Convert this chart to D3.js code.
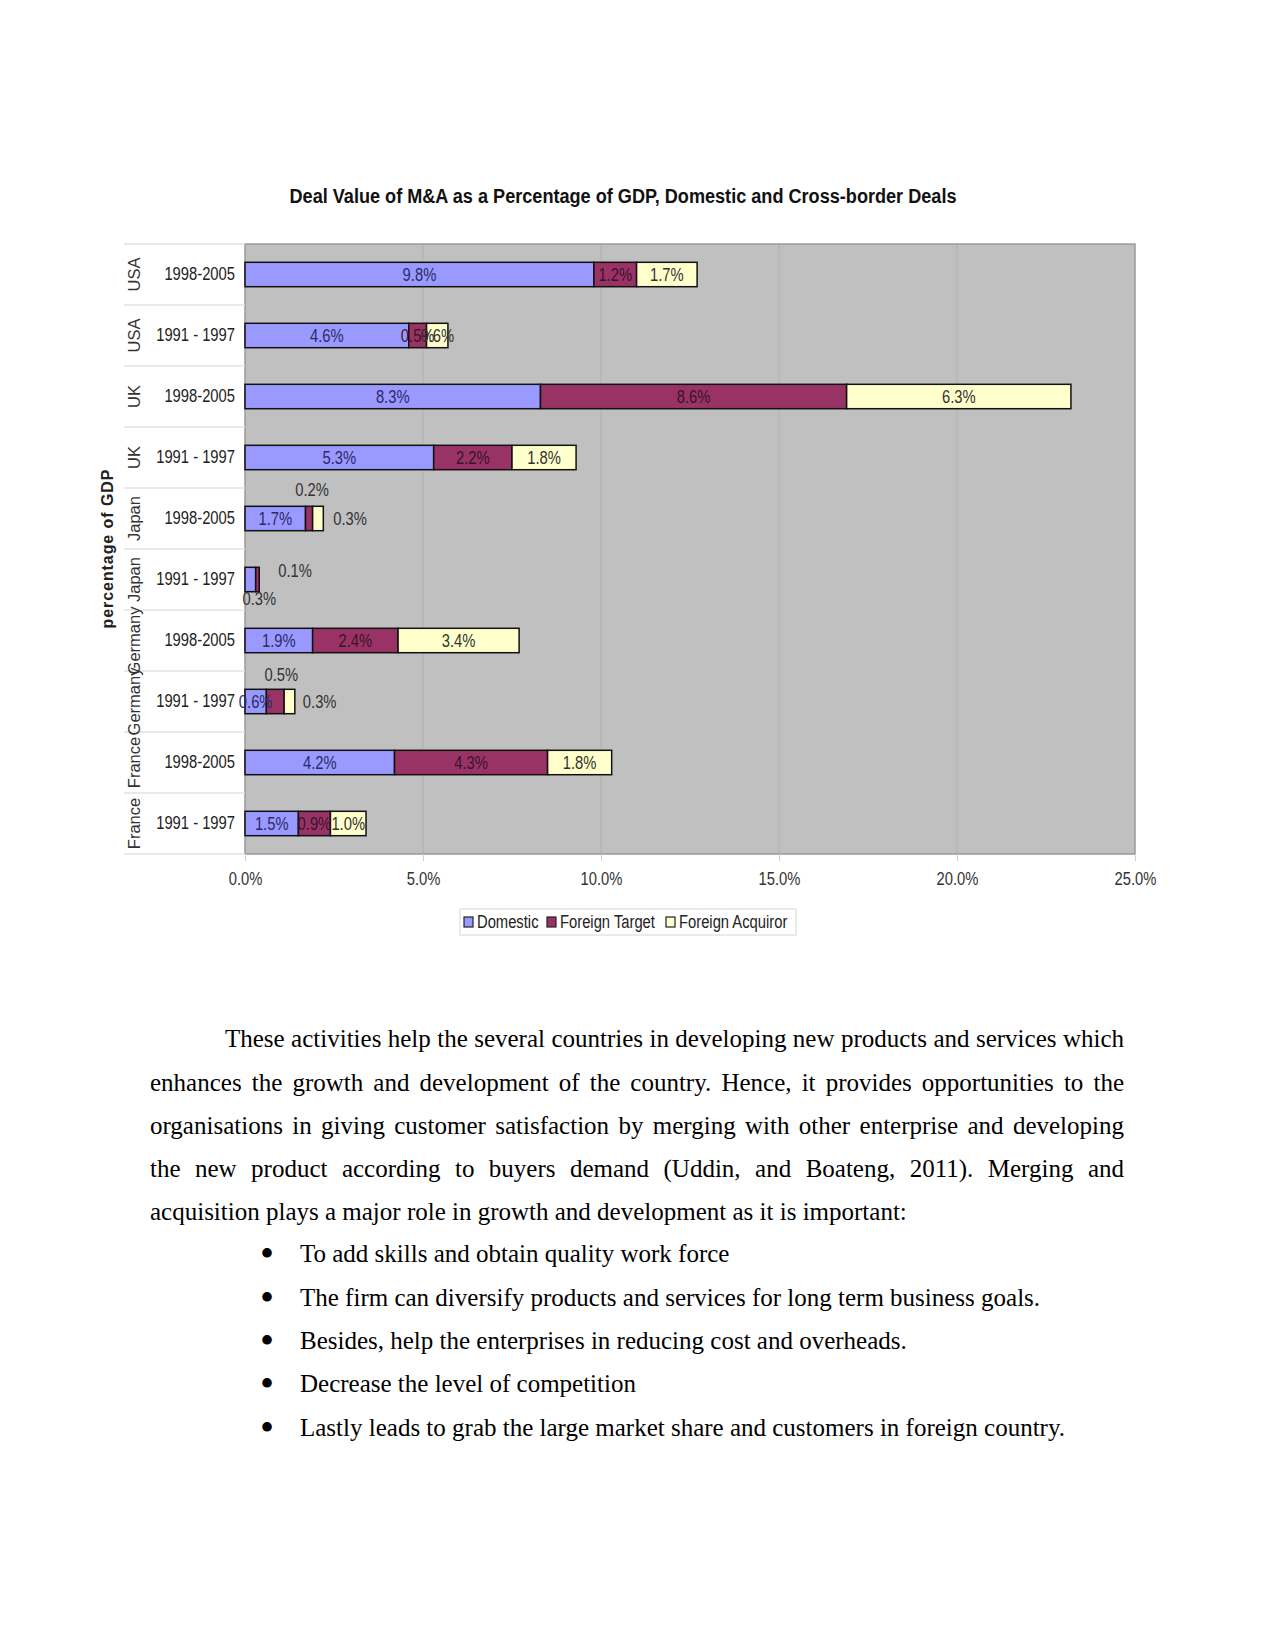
<!DOCTYPE html>
<html>
<head>
<meta charset="utf-8">
<script src="https://cdn.jsdelivr.net/npm/d3@7"></script>
<style>
  html, body { margin: 0; padding: 0; background: #fff; }
  svg { display: block; }
</style>
</head>
<body>
<svg id="page" width="1275" height="1650"></svg>
<script>
// ---------------- DATA ----------------
const title = "Deal Value of M&A as a Percentage of GDP, Domestic and Cross-border Deals";
const yAxisTitle = "percentage of GDP";
const countries = ["USA", "USA", "UK", "UK", "Japan", "Japan", "Germany", "Germany", "France", "France"];
const periods = ["1998-2005", "1991 - 1997", "1998-2005", "1991 - 1997", "1998-2005", "1991 - 1997", "1998-2005", "1991 - 1997", "1998-2005", "1991 - 1997"];
const seriesNames = ["Domestic", "Foreign Target", "Foreign Acquiror"];
const domestic = [9.8, 4.6, 8.3, 5.3, 1.7, 0.3, 1.9, 0.6, 4.2, 1.5];
const foreignTarget = [1.2, 0.5, 8.6, 2.2, 0.2, 0.1, 2.4, 0.5, 4.3, 0.9];
const foreignAcquiror = [1.7, 0.6, 6.3, 1.8, 0.3, 0.0, 3.4, 0.3, 1.8, 1.0];
const xTicks = [0, 5, 10, 15, 20, 25];

const paragraphLines = [
  "These activities help the several countries in developing new products and services which",
  "enhances the growth and development of the country. Hence, it provides opportunities to the",
  "organisations in giving customer satisfaction by merging with other enterprise and developing",
  "the new product according to buyers demand (Uddin, and Boateng, 2011). Merging and",
  "acquisition plays a major role in growth and development as it is important:"
];
const bullets = [
  "To add skills and obtain quality work force",
  "The firm can diversify products and services for long term business goals.",
  "Besides, help the enterprises in reducing cost and overheads.",
  "Decrease the level of competition",
  "Lastly leads to grab the large market share and customers in foreign country."
];

// ---------------- STYLE ----------------
const colors = ["#9999FF", "#993366", "#FFFFCC"];
const labelColors = ["#2b2b66", "#3a1428", "#333333"];
const sans = "'Liberation Sans', Arial, sans-serif";
const serif = "'Liberation Serif', 'Times New Roman', serif";
const NARROW = 0.82; // horizontal condensing to mimic Arial Narrow
// small labels that Excel placed outside their segment
const labelPlacement = {
  "4-1": { pos: "above", dx: 3, dy: -29 },
  "4-2": { pos: "right", dx: 10, dy: 0 },
  "5-0": { pos: "below", dx: 9, dy: 19 },
  "5-1": { pos: "right", dx: 19, dy: -9 },
  "7-1": { pos: "above", dx: 6, dy: -27 },
  "7-2": { pos: "right", dx: 8, dy: 0 }
};

function condense(sel, f) {
  sel.each(function () {
    const l = this.getComputedTextLength();
    d3.select(this).attr("textLength", l * f).attr("lengthAdjust", "spacingAndGlyphs");
  });
}

const svg = d3.select("#page");

// ---------------- CHART ----------------
const plot = { left: 245, right: 1135, top: 244, bottom: 854 };
const x = d3.scaleLinear().domain([0, 25]).range([plot.left, plot.right]);
const idx = d3.range(countries.length);
const y = d3.scaleBand().domain(idx).range([plot.top, plot.bottom]).paddingInner(0.6).paddingOuter(0.3);
const step = y.step();

const rows = idx.map(i => ({ i, Domestic: domestic[i], "Foreign Target": foreignTarget[i], "Foreign Acquiror": foreignAcquiror[i] }));
const stacked = d3.stack().keys(seriesNames)(rows);

// title
svg.append("text")
  .attr("x", 623).attr("y", 203)
  .attr("text-anchor", "middle")
  .attr("font-family", sans).attr("font-weight", "bold").attr("font-size", 20)
  .attr("fill", "#111")
  .attr("textLength", 667).attr("lengthAdjust", "spacingAndGlyphs")
  .text(title);

// plot background
svg.append("rect")
  .attr("x", plot.left).attr("y", plot.top)
  .attr("width", plot.right - plot.left).attr("height", plot.bottom - plot.top)
  .attr("fill", "#C0C0C0");

// gridlines
svg.append("g").selectAll("line").data(xTicks.slice(1, -1)).join("line")
  .attr("x1", d => x(d)).attr("x2", d => x(d))
  .attr("y1", plot.top).attr("y2", plot.bottom)
  .attr("stroke", "#b0b0b0").attr("stroke-width", 1);

// plot border
svg.append("rect")
  .attr("x", plot.left).attr("y", plot.top)
  .attr("width", plot.right - plot.left).attr("height", plot.bottom - plot.top)
  .attr("fill", "none").attr("stroke", "#9a9a9a").attr("stroke-width", 1.5);

// left category separators
const bounds = d3.range(countries.length + 1).map(k => plot.top + k * step);
svg.append("g").selectAll("line").data(bounds).join("line")
  .attr("x1", 124).attr("x2", plot.left)
  .attr("y1", d => d).attr("y2", d => d)
  .attr("stroke", "#e2e2e2").attr("stroke-width", 1.5);

// x axis
const xAxis = d3.axisBottom(x).tickValues(xTicks).tickFormat(d => d3.format(".1f")(d) + "%").tickSize(7).tickPadding(11);
const gx = svg.append("g").attr("transform", `translate(0,${plot.bottom})`).call(xAxis);
gx.select(".domain").remove();
gx.selectAll(".tick line").attr("stroke", "#d0d0d0");
gx.selectAll(".tick text").attr("font-family", sans).attr("font-size", 18).attr("fill", "#333").call(condense, NARROW);

// y axis (period labels)
const yAxis = d3.axisLeft(y).tickFormat(i => periods[i]).tickSize(0).tickPadding(10);
const gy = svg.append("g").attr("transform", `translate(${plot.left},0)`).call(yAxis);
gy.select(".domain").remove();
gy.selectAll(".tick text").attr("font-family", sans).attr("font-size", 18).attr("fill", "#222").call(condense, NARROW);

// country labels (rotated)
svg.append("g").selectAll("text").data(idx).join("text")
  .attr("transform", i => `translate(140,${y(i) + y.bandwidth() / 2}) rotate(-90)`)
  .attr("text-anchor", "middle")
  .attr("font-family", sans).attr("font-size", 16.5).attr("fill", "#333")
  .text(i => countries[i]);

// y axis title
svg.append("text")
  .attr("transform", `translate(113,${549}) rotate(-90)`)
  .attr("text-anchor", "middle")
  .attr("font-family", sans).attr("font-weight", "bold").attr("font-size", 16)
  .attr("fill", "#222")
  .attr("textLength", 159).attr("lengthAdjust", "spacing")
  .text(yAxisTitle);

// bars
const gBars = svg.append("g");
stacked.forEach((layer, s) => {
  gBars.append("g").selectAll("rect").data(layer.filter(d => d[1] - d[0] > 0)).join("rect")
    .attr("x", d => x(d[0]))
    .attr("y", d => y(d.data.i))
    .attr("width", d => x(d[1]) - x(d[0]))
    .attr("height", y.bandwidth())
    .attr("fill", colors[s])
    .attr("stroke", "#111").attr("stroke-width", 1.5);
});

// data labels
const gLab = svg.append("g");
stacked.forEach((layer, s) => {
  layer.forEach(d => {
    const v = d[1] - d[0];
    if (v <= 0) return;
    const i = d.data.i;
    const cy = y(i) + y.bandwidth() / 2;
    const p = labelPlacement[i + "-" + s];
    let tx, ty, anchor = "middle", fill = labelColors[s];
    if (!p) {
      tx = (x(d[0]) + x(d[1])) / 2; ty = cy;
    } else if (p.pos === "right") {
      const end = x(d3.sum([domestic[i], foreignTarget[i], foreignAcquiror[i]]));
      tx = end + p.dx; ty = cy + p.dy; anchor = "start"; fill = "#333";
    } else {
      tx = (x(d[0]) + x(d[1])) / 2 + p.dx; ty = cy + p.dy; fill = "#333";
    }
    gLab.append("text")
      .attr("x", tx).attr("y", ty).attr("dy", "0.36em")
      .attr("text-anchor", anchor)
      .attr("font-family", sans).attr("font-size", 18).attr("fill", fill)
      .text(d3.format(".1f")(v) + "%")
      .call(condense, NARROW);
  });
});

// legend
const legend = svg.append("g");
legend.append("rect").attr("x", 460).attr("y", 909).attr("width", 336).attr("height", 26)
  .attr("fill", "#fff").attr("stroke", "#e4e4e4").attr("stroke-width", 1.5);
const legendX = [464, 547, 666];
seriesNames.forEach((n, s) => {
  legend.append("rect").attr("x", legendX[s]).attr("y", 917).attr("width", 9).attr("height", 10)
    .attr("fill", colors[s]).attr("stroke", "#222").attr("stroke-width", 1.2);
  legend.append("text").attr("x", legendX[s] + 13).attr("y", 928)
    .attr("font-family", sans).attr("font-size", 18).attr("fill", "#222")
    .text(n)
    .call(condense, NARROW);
});

// ---------------- BODY TEXT ----------------
const fontSize = 25;
const measure = svg.append("text").attr("font-family", serif).attr("font-size", fontSize).attr("visibility", "hidden");
function wordWidth(w) { measure.text(w); return measure.node().getComputedTextLength(); }

const textG = svg.append("g").attr("font-family", serif).attr("font-size", fontSize).attr("fill", "#000");
const lineY = [1047, 1091, 1134, 1177, 1220];
paragraphLines.forEach((line, k) => {
  const left = k === 0 ? 225 : 150;
  const right = 1124;
  const t = textG.append("text").attr("y", lineY[k]);
  if (k === paragraphLines.length - 1) {
    t.attr("x", left).text(line);
  } else {
    const words = line.split(" ");
    const widths = words.map(wordWidth);
    const gap = (right - left - d3.sum(widths)) / (words.length - 1);
    let cx = left;
    words.forEach((w, j) => {
      t.append("tspan").attr("x", cx).text(w + (j < words.length - 1 ? " " : ""));
      cx += widths[j] + gap;
    });
  }
});
measure.remove();

const bulletY = [1262, 1306, 1349, 1392, 1436];
bullets.forEach((b, k) => {
  textG.append("text").attr("x", 267).attr("y", bulletY[k] + 5).attr("text-anchor", "middle")
    .attr("font-size", 40).text("•");
  textG.append("text").attr("x", 300).attr("y", bulletY[k]).text(b);
});
</script>
</body>
</html>
